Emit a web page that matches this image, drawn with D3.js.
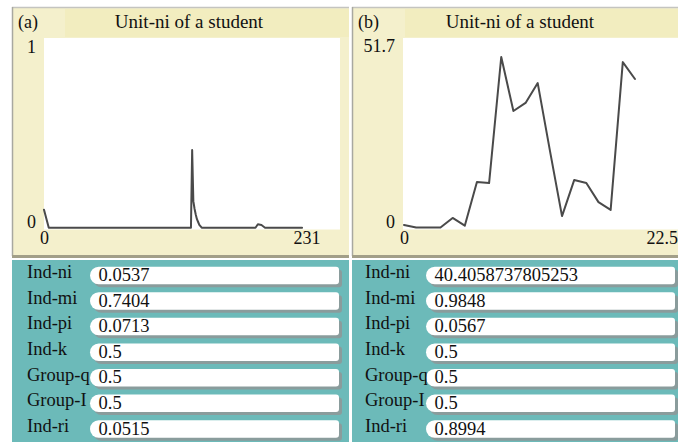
<!DOCTYPE html>
<html>
<head>
<meta charset="utf-8">
<script src="https://cdn.jsdelivr.net/npm/d3@7"></script>
<style>
  html, body { margin: 0; padding: 0; background: #fff; }
  svg { display: block; font-family: "Liberation Serif", "Times New Roman", serif; }
</style>
</head>
<body>
<svg id="chart" width="678" height="443"></svg>
<script>
// ---- data ----
const plotTitle = "Unit-ni of a student";
const panelTags = ["(a)", "(b)"];

// run (a): time steps and Unit-ni values
const ticksA  = [0, 4, 123, 124, 125, 126, 127, 128, 129, 130, 132, 177, 179, 182, 185, 216];
const unitNiA = [0.095, 0, 0, 0.41, 0.14, 0.10, 0.07, 0.045, 0.03, 0.015, 0, 0, 0.018, 0.014, 0, 0];
const xMaxA = 231, yMaxA = 1;

// run (b): time steps and Unit-ni values
const ticksB  = [0, 1, 2, 3, 4, 5, 6, 7, 8, 9, 10, 11, 12, 13, 14, 15, 16, 17, 18, 19];
const unitNiB = [0.7, 0, 0, 0, 2.6, 0.5, 12.4, 12.1, 46.4, 31.7, 33.9, 39.3, 21.0, 3.1, 12.9, 12.1, 6.9, 4.8, 45.0, 40.4058737805253];
const xMaxB = 22.5, yMaxB = 51.7;

// monitor fields under each plot
const fieldNames   = ["Ind-ni", "Ind-mi", "Ind-pi", "Ind-k", "Group-q", "Group-I", "Ind-ri"];
const fieldValuesA = ["0.0537", "0.7404", "0.0713", "0.5", "0.5", "0.5", "0.0515"];
const fieldValuesB = ["40.4058737805253", "0.9848", "0.0567", "0.5", "0.5", "0.5", "0.8994"];

// ---- layout ----
const panels = [
  { tag: panelTags[0], x0: 12, x1: 349, titleX: 189,
    plot: { l: 44, r: 340, t: 38, b: 229.5 }, xRange: [44, 320], yRange: [227.7, 38],
    ticks: ticksA, vals: unitNiA, xMax: xMaxA, yMax: yMaxA,
    fields: fieldValuesA, labelX: 27, boxX: 90, boxR: 339 },
  { tag: panelTags[1], x0: 352, x1: 678, titleX: 520,
    plot: { l: 403, r: 678, t: 38, b: 229.5 }, xRange: [404, 677.5], yRange: [227.5, 37.5],
    ticks: ticksB, vals: unitNiB, xMax: xMaxB, yMax: yMaxB,
    fields: fieldValuesB, labelX: 365, boxX: 426, boxR: 675 }
];

const svg = d3.select("#chart");
const beige = "#f4f0cc", band = "#f2edbf", teal = "#6cbab9";

panels.forEach(p => {
  const g = svg.append("g");
  const w = p.x1 - p.x0;

  // plot frame
  g.append("rect").attr("x", p.x0).attr("y", 7).attr("width", w).attr("height", 249).attr("fill", beige);
  g.append("rect").attr("x", p.x0 + 53).attr("y", 9).attr("width", w - 53).attr("height", 28).attr("fill", band);
  g.append("line").attr("x1", p.x0).attr("x2", p.x1).attr("y1", 7.5).attr("y2", 7.5)
    .attr("stroke", "#c4c4c0").attr("stroke-width", 1.5);
  g.append("line").attr("x1", p.x0 + 0.5).attr("x2", p.x0 + 0.5).attr("y1", 7).attr("y2", 256)
    .attr("stroke", "#a8a8a0").attr("stroke-width", 1.5);
  g.append("rect").attr("x", p.x0).attr("y", 255).attr("width", w).attr("height", 3).attr("fill", "#a29f88");

  // plot area
  g.append("rect").attr("x", p.plot.l).attr("y", p.plot.t)
    .attr("width", p.plot.r - p.plot.l).attr("height", p.plot.b - p.plot.t).attr("fill", "#fff");

  // titles
  g.append("text").attr("x", p.x0 + 6).attr("y", 28).attr("font-size", 18).attr("fill", "#111").text(p.tag);
  g.append("text").attr("x", p.titleX).attr("y", 28).attr("font-size", 19).attr("fill", "#111")
    .attr("text-anchor", "middle").text(plotTitle);

  // scales and axes
  const x = d3.scaleLinear().domain([0, p.xMax]).range(p.xRange);
  const y = d3.scaleLinear().domain([0, p.yMax]).range(p.yRange);

  const yAxis = g.append("g").attr("transform", `translate(${p.plot.l},0)`)
    .call(d3.axisLeft(y).tickValues([0, p.yMax]).tickSize(0).tickPadding(8).tickFormat(d => String(d)));
  yAxis.select(".domain").remove();
  yAxis.selectAll("text").attr("font-size", 18).attr("font-family", "Liberation Serif").attr("fill", "#111")
    .attr("dy", d => d === 0 ? "0em" : "0.78em");

  const xAxis = g.append("g").attr("transform", "translate(0,231)")
    .call(d3.axisBottom(x).tickValues([0, p.xMax]).tickSize(0).tickPadding(0).tickFormat(d => String(d)));
  xAxis.select(".domain").remove();
  xAxis.selectAll("text").attr("font-size", 18).attr("font-family", "Liberation Serif").attr("fill", "#111")
    .attr("text-anchor", d => d === 0 ? "middle" : "end");

  // Unit-ni line
  const pts = p.ticks.map((t, i) => [t, p.vals[i]]);
  g.append("path").datum(pts)
    .attr("fill", "none").attr("stroke", "#4a4a4a").attr("stroke-width", 2)
    .attr("stroke-linejoin", "round").attr("stroke-linecap", "round")
    .attr("d", d3.line().x(d => x(d[0])).y(d => y(d[1])));

  // monitor block
  g.append("rect").attr("x", p.x0).attr("y", 260).attr("width", w).attr("height", 182).attr("fill", teal);

  const rowY = d3.scaleLinear().domain([0, fieldNames.length - 1]).range([266.7, 420.2]);
  const boxH = 17.5, r = boxH / 2;
  const pill = (bx, by, bw) =>
    `M${bx + r},${by} H${bx + bw - 3} Q${bx + bw},${by} ${bx + bw},${by + 3} V${by + boxH - 3} ` +
    `Q${bx + bw},${by + boxH} ${bx + bw - 3},${by + boxH} H${bx + r} A${r},${r} 0 0 1 ${bx + r},${by} Z`;

  fieldNames.forEach((name, i) => {
    const by = rowY(i);
    const bw = p.boxR - p.boxX;
    g.append("path").attr("d", pill(p.boxX + 3, by + 3, bw)).attr("fill", "#8a9c9c");
    g.append("path").attr("d", pill(p.boxX, by, bw)).attr("fill", "#fff");
    g.append("text").attr("x", p.labelX).attr("y", by + 11.6).attr("font-size", 18.5).attr("fill", "#111").text(name);
    g.append("text").attr("x", p.boxX + 8.5).attr("y", by + 14.3).attr("font-size", 18.5).attr("fill", "#111")
      .text(p.fields[i]);
  });
});
</script>
</body>
</html>
